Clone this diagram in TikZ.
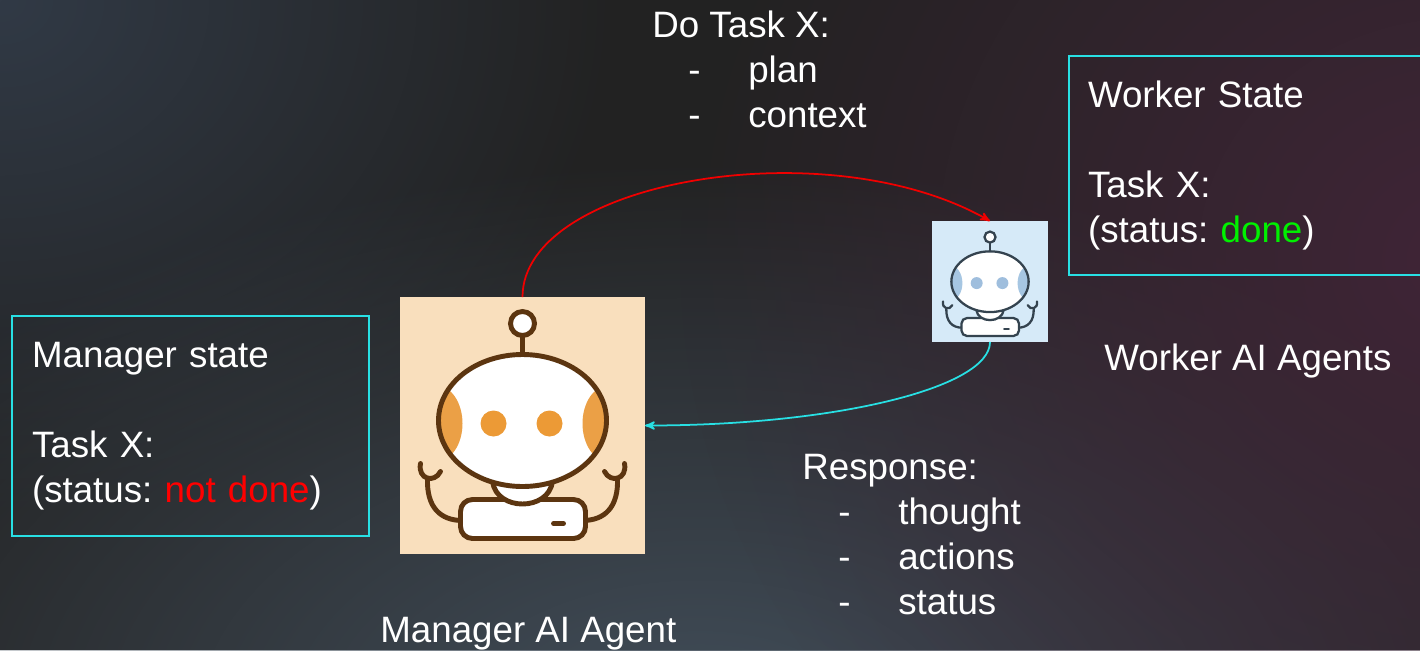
\documentclass[tikz,border=0pt]{standalone}
\usepackage{fontspec}
\setmainfont{Liberation Sans}
\usepackage{tikz}
\usepackage{xcolor}
\usetikzlibrary{arrows,fadings,positioning}
\definecolor{bgdark}{RGB}{34,34,34}
\definecolor{bgslate}{RGB}{49,58,70}
\definecolor{bgsteel}{RGB}{66,78,90}
\definecolor{bgplum}{RGB}{64,37,55}
\definecolor{frame}{RGB}{40,224,228}
\definecolor{reqred}{RGB}{240,0,0}
\definecolor{notdone}{RGB}{255,0,0}
\definecolor{done}{RGB}{0,240,0}
\definecolor{peach}{RGB}{249,223,189}
\definecolor{skyblue}{RGB}{214,234,248}
\definecolor{mgrline}{RGB}{92,53,16}
\definecolor{mgrside}{RGB}{235,160,70}
\definecolor{mgreye}{RGB}{236,154,54}
\definecolor{wkrline}{RGB}{52,67,79}
\definecolor{wkrside}{RGB}{166,198,226}
\definecolor{wkreye}{RGB}{159,190,221}

\tikzfading[name=glow, inner color=transparent!0, outer color=transparent!100]

\newcommand{\listdash}{\hspace*{0.72cm}\makebox[1.2cm][l]{-}}

\tikzset{
  rb/.style={draw=black, line width=1pt},
  rbside/.style={fill=gray},
  rbeye/.style={fill=gray},
  rbbody/.style={rounded corners=2pt},
  robot/.pic={
    % antenna
    \draw[rb] (0,-90) -- (0,-68);
    \filldraw[rb, fill=white] (0,-102) circle[radius=12];
    % arms, the right one is the left one mirrored
    \foreach \s in {1,-1}{
      \begin{scope}[xscale=\s]
        \draw[rb, line cap=round] (-102,38) .. controls (-105,54) and (-88,58) .. (-82,46);
        \draw[rb] (-95,53) .. controls (-96,82) and (-82,95) .. (-60,95);
      \end{scope}
    }
    % body and neck
    \filldraw[rb, rbbody, fill=white] (-62,74) rectangle (63,113);
    \filldraw[rb, fill=white] (-30,56) .. controls (-26,86) and (26,86) .. (30,56);
    % head
    \fill[white] (0,-5) ellipse[x radius=84, y radius=66];
    \begin{scope}
      \clip (0,-5) ellipse[x radius=84, y radius=66];
      \fill[rbside] (-86,-2) ellipse[x radius=26, y radius=38];
      \fill[rbside] (86,-2) ellipse[x radius=26, y radius=38];
    \end{scope}
    \draw[rb] (0,-5) ellipse[x radius=84, y radius=66];
    % eyes
    \fill[rbeye] (-29,-2) circle[radius=13];
    \fill[rbeye] (27,-2) circle[radius=13];
    % chest slot
    \draw[rb, line cap=round] (31,98) -- (41,98);
  }
}

\begin{document}
\frenchspacing
\begin{tikzpicture}[x=0.02cm, y=-0.02cm,
    txt/.style={text=white, font=\fontsize{20.9}{25.6}\selectfont, align=left, inner sep=0},
    statebox/.style={txt, draw=frame, line width=1.1pt, inner xsep=0.4cm},
    agent/.style={inner sep=0, outer sep=0},
    request/.style={draw=reqred, line width=1pt, ->, >=stealth'},
    reply/.style={draw=frame, line width=1pt, ->, >=stealth'}]
  \useasboundingbox (0,0) rectangle (1420,650);
  \clip (0,0) rectangle (1420,650);

  % backdrop
  \fill[bgdark] (0,0) rectangle (1420,650);
  \fill[bgslate, path fading=glow] (0,0) ellipse[x radius=620, y radius=520];
  \fill[bgsteel, path fading=glow] (700,720) ellipse[x radius=1000, y radius=560];
  \fill[bgplum, path fading=glow] (1460,260) ellipse[x radius=780, y radius=720];

  % the two agents
  \node[agent, fill=peach, minimum width=4.9cm, minimum height=5.14cm] (mgr) at (522.5,425.5) {};
  \node[agent, fill=skyblue, minimum width=2.32cm, minimum height=2.42cm] (wkr) at (990,281.5) {};
  \pic[rb/.style={draw=mgrline, line width=2.8pt}, rbside/.style={fill=mgrside},
       rbeye/.style={fill=mgreye}, rbbody/.style={rounded corners=0.24cm}] at (mgr.center) {robot};
  \pic[scale=0.46, rb/.style={draw=wkrline, line width=1.3pt}, rbside/.style={fill=wkrside},
       rbeye/.style={fill=wkreye}, rbbody/.style={rounded corners=0.11cm}] at (990,284) {robot};

  \node[txt, anchor=base west] (mgrname) at (380,642) {Manager AI Agent};
  \node[txt, anchor=base west] (wkrname) at (1104,370) {Worker AI Agents};

  % state of each side
  \node[statebox, minimum width=7.14cm, minimum height=4.4cm, text width=6.34cm] (mgrstate) at (190.5,426)
    {Manager state\\[25.6pt]Task X:\\(status: \textcolor{notdone}{not done})};
  \node[statebox, inner xsep=0.38cm, minimum width=7.42cm, minimum height=4.38cm, text width=6.66cm] (wkrstate) at (1254.5,165.5)
    {Worker State\\[25.6pt]Task X:\\(status: \textcolor{done}{done})};

  % messages
  \node[txt, anchor=north west] (dotask) at (652,11) {Do Task X:\\\listdash plan\\\listdash context};
  \node[txt, anchor=north west] (response) at (802,454) {Response:\\\listdash thought\\\listdash actions\\\listdash status};

  \draw[request] (mgr.north) .. controls +(0,-116) and +(-163,-93) .. (wkr.north);
  \draw[reply] (wkr.south) .. controls +(0,46) and +(189,0) .. (mgr.east);
\end{tikzpicture}
\end{document}
